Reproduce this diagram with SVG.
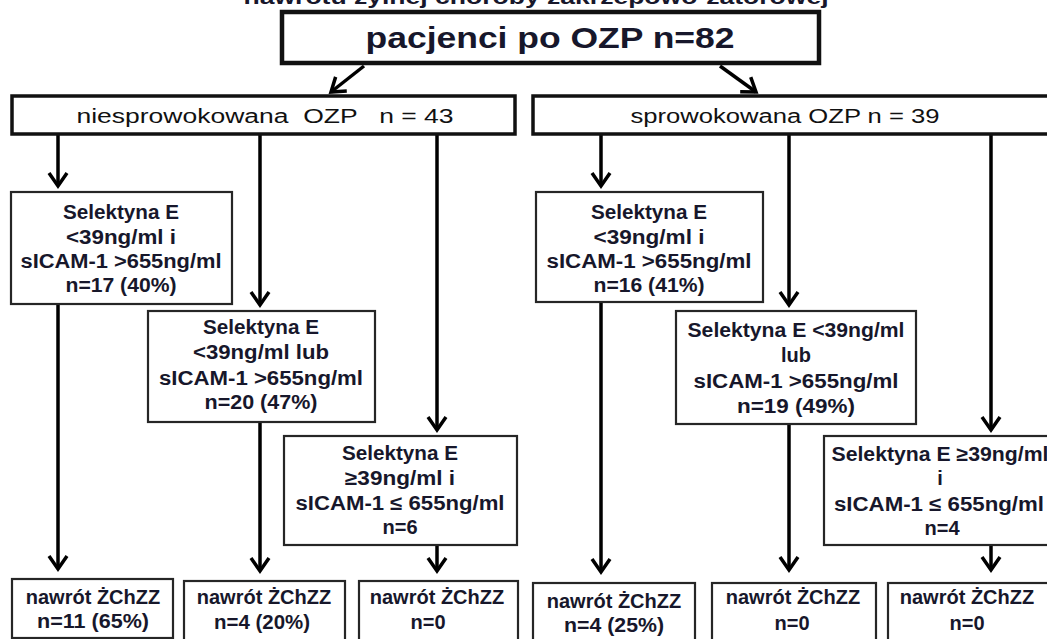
<svg xmlns="http://www.w3.org/2000/svg" width="1047" height="639" viewBox="0 0 1047 639">
<style>
.bx{fill:#fff;stroke:#262626;stroke-width:2.2}
.bx1{fill:#fff;stroke:#111;stroke-width:3.5}
.bx0{fill:#fff;stroke:#111;stroke-width:4.5}
.t{font-family:"Liberation Sans",Arial,sans-serif;font-weight:bold;font-size:20px;fill:#17172b;text-anchor:middle}
.tr{font-family:"Liberation Sans",Arial,sans-serif;font-size:20px;fill:#111;text-anchor:middle}
.c{stroke:#000;stroke-width:3.5;fill:none}
</style>
<defs>
<marker id="ah" markerUnits="userSpaceOnUse" viewBox="-16 -12 20 24" refX="0" refY="0" markerWidth="20" markerHeight="24" orient="auto">
<path d="M-13,-9 L0,0 L-13,9" fill="none" stroke="#000" stroke-width="3.5"/>
</marker>
</defs>
<text class="t" x="536" y="4" textLength="585" lengthAdjust="spacingAndGlyphs">nawrotu żylnej choroby zakrzepowo-zatorowej</text>
<g id="connectors">
<path class="c" marker-end="url(#ah)" d="M364,66 L331,92"/>
<path class="c" marker-end="url(#ah)" d="M720,66 L756,92"/>
<path class="c" marker-end="url(#ah)" d="M58,134 L58,186"/>
<path class="c" marker-end="url(#ah)" d="M260,134 L260,305"/>
<path class="c" marker-end="url(#ah)" d="M437,134 L437,430"/>
<path class="c" marker-end="url(#ah)" d="M58,304 L58,569"/>
<path class="c" marker-end="url(#ah)" d="M260,422 L260,571"/>
<path class="c" marker-end="url(#ah)" d="M437,545 L437,571"/>
<path class="c" marker-end="url(#ah)" d="M601,134 L601,186"/>
<path class="c" marker-end="url(#ah)" d="M789,134 L789,305"/>
<path class="c" marker-end="url(#ah)" d="M991,134 L991,430"/>
<path class="c" marker-end="url(#ah)" d="M601,302 L601,572"/>
<path class="c" marker-end="url(#ah)" d="M789,424 L789,570"/>
<path class="c" marker-end="url(#ah)" d="M991,545 L991,570"/>
</g>
<g id="root">
<rect class="bx0" x="282" y="12" width="537" height="51"/>
<text class="t" x="550" y="48" style="font-size:30px" textLength="369" lengthAdjust="spacingAndGlyphs">pacjenci po OZP n=82</text>
</g>
<g id="unprovoked">
<rect class="bx1" x="12" y="96" width="503" height="38"/>
<text class="tr" x="265" y="123" xml:space="preserve" textLength="377" lengthAdjust="spacingAndGlyphs">niesprowokowana  OZP   n = 43</text>
</g>
<g id="provoked">
<rect class="bx1" x="533" y="96" width="530" height="38"/>
<text class="tr" x="785" y="123" textLength="309" lengthAdjust="spacingAndGlyphs">sprowokowana OZP n = 39</text>
</g>
<g id="L1">
<rect class="bx" x="11" y="192" width="221" height="112"/>
<text class="t" x="121" y="219" textLength="116" lengthAdjust="spacingAndGlyphs">Selektyna E</text>
<text class="t" x="121" y="244" textLength="110" lengthAdjust="spacingAndGlyphs">&lt;39ng/ml i</text>
<text class="t" x="121" y="268" textLength="201" lengthAdjust="spacingAndGlyphs">sICAM-1 &gt;655ng/ml</text>
<text class="t" x="121" y="292" textLength="111" lengthAdjust="spacingAndGlyphs">n=17 (40%)</text>
</g>
<g id="L2">
<rect class="bx" x="148" y="311" width="227" height="111"/>
<text class="t" x="261" y="334" textLength="116" lengthAdjust="spacingAndGlyphs">Selektyna E</text>
<text class="t" x="261" y="359" textLength="136" lengthAdjust="spacingAndGlyphs">&lt;39ng/ml lub</text>
<text class="t" x="261" y="385" textLength="204" lengthAdjust="spacingAndGlyphs">sICAM-1 &gt;655ng/ml</text>
<text class="t" x="261" y="409" textLength="113" lengthAdjust="spacingAndGlyphs">n=20 (47%)</text>
</g>
<g id="L3">
<rect class="bx" x="284" y="436" width="233" height="109"/>
<text class="t" x="400" y="460" textLength="116" lengthAdjust="spacingAndGlyphs">Selektyna E</text>
<text class="t" x="400" y="485" textLength="110" lengthAdjust="spacingAndGlyphs">≥39ng/ml i</text>
<text class="t" x="400" y="510" textLength="209" lengthAdjust="spacingAndGlyphs">sICAM-1 ≤ 655ng/ml</text>
<text class="t" x="400" y="534">n=6</text>
</g>
<g id="R1">
<rect class="bx" x="536" y="192" width="227" height="110"/>
<text class="t" x="649" y="219" textLength="116" lengthAdjust="spacingAndGlyphs">Selektyna E</text>
<text class="t" x="649" y="244" textLength="111" lengthAdjust="spacingAndGlyphs">&lt;39ng/ml i</text>
<text class="t" x="649" y="268" textLength="205" lengthAdjust="spacingAndGlyphs">sICAM-1 &gt;655ng/ml</text>
<text class="t" x="649" y="292" textLength="111" lengthAdjust="spacingAndGlyphs">n=16 (41%)</text>
</g>
<g id="R2">
<rect class="bx" x="676" y="311" width="240" height="113"/>
<text class="t" x="796" y="337" textLength="217" lengthAdjust="spacingAndGlyphs">Selektyna E &lt;39ng/ml</text>
<text class="t" x="796" y="362">lub</text>
<text class="t" x="796" y="388" textLength="205" lengthAdjust="spacingAndGlyphs">sICAM-1 &gt;655ng/ml</text>
<text class="t" x="796" y="413" textLength="118" lengthAdjust="spacingAndGlyphs">n=19 (49%)</text>
</g>
<g id="R3">
<rect class="bx" x="824" y="436" width="240" height="109"/>
<text class="t" x="940" y="461" textLength="217" lengthAdjust="spacingAndGlyphs">Selektyna E ≥39ng/ml</text>
<text class="t" x="940" y="485">i</text>
<text class="t" x="939" y="511" textLength="210" lengthAdjust="spacingAndGlyphs">sICAM-1 ≤ 655ng/ml</text>
<text class="t" x="942" y="535">n=4</text>
</g>
<g id="Ba">
<rect class="bx" x="12" y="579" width="161" height="59"/>
<text class="t" x="93" y="604">nawrót ŻChZZ</text>
<text class="t" x="93" y="628" textLength="112" lengthAdjust="spacingAndGlyphs">n=11 (65%)</text>
</g>
<g id="Bb">
<rect class="bx" x="184" y="581" width="161" height="66"/>
<text class="t" x="264" y="604">nawrót ŻChZZ</text>
<text class="t" x="262" y="629" textLength="96" lengthAdjust="spacingAndGlyphs">n=4 (20%)</text>
</g>
<g id="Bc">
<rect class="bx" x="359" y="581" width="159" height="66"/>
<text class="t" x="437" y="604">nawrót ŻChZZ</text>
<text class="t" x="428" y="629">n=0</text>
</g>
<g id="Bd">
<rect class="bx" x="533" y="583" width="162" height="66"/>
<text class="t" x="614" y="608">nawrót ŻChZZ</text>
<text class="t" x="614" y="632" textLength="100" lengthAdjust="spacingAndGlyphs">n=4 (25%)</text>
</g>
<g id="Be">
<rect class="bx" x="712" y="583" width="164" height="66"/>
<text class="t" x="793" y="604">nawrót ŻChZZ</text>
<text class="t" x="792" y="630">n=0</text>
</g>
<g id="Bf">
<rect class="bx" x="888" y="583" width="170" height="66"/>
<text class="t" x="967" y="604">nawrót ŻChZZ</text>
<text class="t" x="967" y="630">n=0</text>
</g>
</svg>
